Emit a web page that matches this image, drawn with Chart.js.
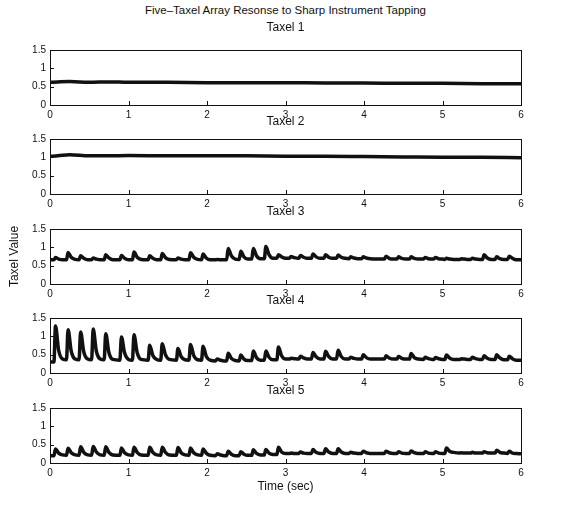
<!DOCTYPE html>
<html>
<head>
<meta charset="utf-8">
<script src="https://cdn.jsdelivr.net/npm/chart.js@4.4.1/dist/chart.umd.min.js"></script>
<style>
    body { margin: 0; background: #fff; width: 579px; height: 527px; position: relative; overflow: hidden; }
    .panel { position: absolute; left: 0; width: 579px; }
    #main-title { position: absolute; left: 50px; width: 471px; top: 4px; text-align: center;
        font: 11.5px "Liberation Sans", Arial, sans-serif; color: #111; }
</style>
</head>
<body>
<div id="main-title">Five&#8211;Taxel Array Resonse to Sharp Instrument Tapping</div>
<div class="panel" id="p1"><canvas id="c1"></canvas></div>
<div class="panel" id="p2"><canvas id="c2"></canvas></div>
<div class="panel" id="p3"><canvas id="c3"></canvas></div>
<div class="panel" id="p4"><canvas id="c4"></canvas></div>
<div class="panel" id="p5"><canvas id="c5"></canvas></div>
<script>
// Axis ticks (shared by all five panels)
const xTicks = [0, 1, 2, 3, 4, 5, 6];
const yTicks = [0, 0.5, 1, 1.5];

// Taxel 1 and 2 are nearly flat, a few samples are enough
const timeFlat = [0, 0.1, 0.25, 0.5, 0.75, 1.0, 1.5, 2.0, 2.5, 3.0, 3.5, 4.0, 4.5, 5.0, 5.5, 6.0];
const taxel1 = [0.62, 0.63, 0.64, 0.62, 0.63, 0.62, 0.62, 0.61, 0.61, 0.61, 0.60, 0.60, 0.59, 0.59, 0.58, 0.58];
const taxel2 = [1.03, 1.04, 1.07, 1.04, 1.04, 1.05, 1.04, 1.04, 1.04, 1.03, 1.03, 1.02, 1.01, 1.00, 1.00, 0.99];

// Taxels 3-5 see the same taps: before, peak, decay, settled for each tap
const timeTap = [
    0,
    0.05, 0.07, 0.11, 0.16,  0.21, 0.23, 0.27, 0.32,  0.37, 0.39, 0.43, 0.48,
    0.53, 0.55, 0.59, 0.64,  0.69, 0.71, 0.75, 0.80,  0.89, 0.91, 0.95, 1.00,
    1.05, 1.07, 1.11, 1.16,  1.25, 1.27, 1.31, 1.36,  1.41, 1.43, 1.47, 1.52,
    1.61, 1.63, 1.67, 1.72,  1.77, 1.79, 1.83, 1.88,  1.93, 1.95, 1.99, 2.04,
    2.11, 2.13, 2.17, 2.22,  2.25, 2.27, 2.31, 2.36,  2.41, 2.43, 2.47, 2.52,
    2.57, 2.59, 2.63, 2.68,  2.73, 2.75, 2.79, 2.84,  2.89, 2.91, 2.95, 3.00,
    3.05, 3.07, 3.11, 3.16,  3.17, 3.19, 3.23, 3.28,  3.33, 3.35, 3.39, 3.44,
    3.49, 3.51, 3.55, 3.60,  3.65, 3.67, 3.71, 3.76,  3.81, 3.83, 3.87, 3.92,
    3.97, 3.99, 4.03, 4.08,  4.26, 4.28, 4.32, 4.37,  4.42, 4.44, 4.48, 4.53,
    4.58, 4.60, 4.64, 4.69,  4.76, 4.78, 4.82, 4.87,  4.89, 4.91, 4.95, 5.00,
    5.03, 5.05, 5.09, 5.14,  5.22, 5.24, 5.28, 5.33,  5.36, 5.38, 5.42, 5.47,
    5.51, 5.53, 5.57, 5.62,  5.67, 5.69, 5.73, 5.78,  5.83, 5.85, 5.89, 5.94,
    6.00
];

const taxel3 = [
    0.66,
    0.66, 0.72, 0.68, 0.66,  0.66, 0.86, 0.73, 0.67,  0.66, 0.77, 0.70, 0.66,
    0.66, 0.71, 0.68, 0.66,  0.66, 0.80, 0.71, 0.66,  0.66, 0.78, 0.70, 0.66,
    0.66, 0.87, 0.73, 0.67,  0.66, 0.77, 0.70, 0.66,  0.66, 0.83, 0.72, 0.67,
    0.66, 0.71, 0.68, 0.66,  0.66, 0.85, 0.73, 0.67,  0.66, 0.82, 0.71, 0.66,
    0.66, 0.67, 0.66, 0.66,  0.66, 0.97, 0.77, 0.68,  0.67, 0.89, 0.74, 0.68,
    0.68, 0.97, 0.77, 0.69,  0.69, 1.02, 0.80, 0.70,  0.70, 0.80, 0.74, 0.70,
    0.70, 0.75, 0.72, 0.70,  0.70, 0.78, 0.73, 0.70,  0.70, 0.82, 0.74, 0.70,
    0.70, 0.80, 0.73, 0.70,  0.70, 0.79, 0.73, 0.70,  0.69, 0.74, 0.71, 0.69,
    0.69, 0.74, 0.71, 0.69,  0.68, 0.76, 0.70, 0.68,  0.68, 0.74, 0.70, 0.68,
    0.68, 0.74, 0.70, 0.68,  0.68, 0.72, 0.69, 0.68,  0.68, 0.72, 0.69, 0.68,
    0.67, 0.70, 0.68, 0.67,  0.67, 0.69, 0.68, 0.67,  0.67, 0.70, 0.68, 0.67,
    0.67, 0.80, 0.71, 0.67,  0.67, 0.74, 0.69, 0.67,  0.67, 0.76, 0.70, 0.66,
    0.66
];

const taxel4 = [
    0.30,
    0.30, 1.28, 0.62, 0.38,  0.36, 1.18, 0.60, 0.38,  0.36, 1.12, 0.58, 0.38,
    0.36, 1.20, 0.60, 0.38,  0.36, 1.07, 0.56, 0.37,  0.35, 0.98, 0.55, 0.37,
    0.35, 1.04, 0.56, 0.37,  0.35, 0.76, 0.48, 0.37,  0.35, 0.80, 0.50, 0.37,
    0.35, 0.67, 0.45, 0.36,  0.35, 0.78, 0.48, 0.36,  0.35, 0.73, 0.46, 0.35,
    0.33, 0.38, 0.35, 0.33,  0.33, 0.54, 0.40, 0.34,  0.33, 0.49, 0.38, 0.34,
    0.34, 0.60, 0.42, 0.35,  0.35, 0.60, 0.43, 0.36,  0.36, 0.71, 0.47, 0.38,
    0.38, 0.40, 0.39, 0.38,  0.38, 0.46, 0.41, 0.38,  0.38, 0.56, 0.44, 0.38,
    0.38, 0.59, 0.45, 0.38,  0.38, 0.62, 0.45, 0.38,  0.38, 0.43, 0.40, 0.38,
    0.38, 0.50, 0.42, 0.38,  0.38, 0.47, 0.41, 0.38,  0.38, 0.45, 0.40, 0.38,
    0.38, 0.53, 0.42, 0.38,  0.37, 0.43, 0.39, 0.37,  0.37, 0.42, 0.39, 0.37,
    0.37, 0.49, 0.41, 0.37,  0.37, 0.39, 0.38, 0.37,  0.37, 0.43, 0.39, 0.37,
    0.37, 0.47, 0.40, 0.37,  0.37, 0.50, 0.41, 0.36,  0.36, 0.46, 0.39, 0.35,
    0.35
];

const taxel5 = [
    0.20,
    0.20, 0.38, 0.27, 0.22,  0.21, 0.40, 0.28, 0.22,  0.21, 0.44, 0.29, 0.22,
    0.21, 0.45, 0.30, 0.22,  0.21, 0.44, 0.29, 0.22,  0.21, 0.41, 0.28, 0.22,
    0.21, 0.43, 0.29, 0.22,  0.21, 0.43, 0.29, 0.22,  0.21, 0.43, 0.29, 0.22,
    0.21, 0.42, 0.28, 0.22,  0.21, 0.41, 0.28, 0.22,  0.21, 0.38, 0.27, 0.21,
    0.20, 0.25, 0.22, 0.20,  0.20, 0.32, 0.24, 0.20,  0.20, 0.31, 0.24, 0.21,
    0.21, 0.36, 0.26, 0.22,  0.22, 0.37, 0.27, 0.23,  0.23, 0.43, 0.30, 0.26,
    0.26, 0.27, 0.26, 0.26,  0.26, 0.30, 0.27, 0.26,  0.26, 0.37, 0.29, 0.26,
    0.26, 0.39, 0.30, 0.26,  0.26, 0.39, 0.30, 0.26,  0.26, 0.29, 0.27, 0.26,
    0.26, 0.32, 0.28, 0.26,  0.26, 0.32, 0.28, 0.26,  0.26, 0.31, 0.27, 0.26,
    0.26, 0.33, 0.28, 0.26,  0.26, 0.31, 0.27, 0.26,  0.26, 0.31, 0.27, 0.26,
    0.26, 0.41, 0.32, 0.29,  0.27, 0.28, 0.27, 0.27,  0.27, 0.29, 0.27, 0.27,
    0.27, 0.31, 0.28, 0.27,  0.27, 0.35, 0.29, 0.27,  0.26, 0.32, 0.27, 0.26,
    0.25
];

const FONT = '"Liberation Sans", Arial, sans-serif';
const INK = '#111';

// plot box (y = 1.5) top for each panel, and how far above it the panel title sits
const plotTops = [50, 139, 229, 318, 408];
const titleGaps = [22, 17, 17, 17, 17];
const PLOT_H = 55;
const TITLE_H = 30;
const Y_AXIS_W = 50;
const X_AXIS_H = 18;

// MATLAB-like box with inward tick marks
const boxPlugin = {
    id: 'box',
    afterDraw(chart) {
        const { ctx, chartArea: a, scales } = chart;
        ctx.save();
        ctx.strokeStyle = INK;
        ctx.lineWidth = 1;
        ctx.strokeRect(a.left + 0.5, a.top + 0.5, a.right - a.left, a.bottom - a.top);
        ctx.beginPath();
        xTicks.slice(1, -1).forEach(v => {
            const px = Math.round(scales.x.getPixelForValue(v)) + 0.5;
            ctx.moveTo(px, a.bottom);
            ctx.lineTo(px, a.bottom - 4);
        });
        yTicks.slice(1, -1).forEach(v => {
            const py = Math.round(scales.y.getPixelForValue(v)) + 0.5;
            ctx.moveTo(a.left, py);
            ctx.lineTo(a.left + 4, py);
        });
        ctx.stroke();
        ctx.restore();
    }
};

function makePanel(idx, title, times, values) {
    const last = idx === 4;
    const xH = last ? 34 : X_AXIS_H;
    const holder = document.getElementById('p' + (idx + 1));
    holder.style.top = (plotTops[idx] - TITLE_H) + 'px';
    holder.style.height = (TITLE_H + PLOT_H + xH) + 'px';
    const padTop = TITLE_H - titleGaps[idx] - 6;

    new Chart(document.getElementById('c' + (idx + 1)), {
        type: 'line',
        data: {
            datasets: [{
                data: times.map((t, i) => ({ x: t, y: values[i] })),
                borderColor: INK,
                borderWidth: 3.5,
                pointRadius: 0,
                cubicInterpolationMode: 'monotone',
                fill: false
            }]
        },
        options: {
            responsive: true,
            maintainAspectRatio: false,
            animation: false,
            layout: { padding: { left: 0, right: 58, top: 0, bottom: 0 } },
            plugins: {
                legend: { display: false },
                tooltip: { enabled: false },
                title: {
                    display: true,
                    text: title,
                    fullSize: false,
                    color: INK,
                    font: { family: FONT, size: 12, weight: 'normal', lineHeight: 1 },
                    padding: { top: padTop, bottom: TITLE_H - padTop - 12 }
                }
            },
            scales: {
                x: {
                    type: 'linear',
                    min: 0,
                    max: 6,
                    afterBuildTicks: s => { s.ticks = xTicks.map(v => ({ value: v })); },
                    afterFit: s => { s.height = xH; },
                    grid: { display: false, drawTicks: false, tickLength: 0 },
                    border: { display: false },
                    ticks: { color: INK, padding: 4, font: { family: FONT, size: 10 }, maxRotation: 0 },
                    title: {
                        display: last,
                        text: 'Time (sec)',
                        color: INK,
                        padding: { top: 0, bottom: 3 },
                        font: { family: FONT, size: 12 }
                    }
                },
                y: {
                    min: 0,
                    max: 1.5,
                    afterBuildTicks: s => { s.ticks = yTicks.map(v => ({ value: v })); },
                    afterFit: s => { s.width = Y_AXIS_W; },
                    grid: { display: false, drawTicks: false, tickLength: 0 },
                    border: { display: false },
                    ticks: { color: INK, padding: 4, font: { family: FONT, size: 10 }, callback: v => String(v) },
                    title: {
                        display: idx === 2,
                        text: 'Taxel Value',
                        color: INK,
                        padding: { top: 7, bottom: 0 },
                        font: { family: FONT, size: 12 }
                    }
                }
            }
        },
        plugins: [boxPlugin]
    });
}

makePanel(0, 'Taxel 1', timeFlat, taxel1);
makePanel(1, 'Taxel 2', timeFlat, taxel2);
makePanel(2, 'Taxel 3', timeTap, taxel3);
makePanel(3, 'Taxel 4', timeTap, taxel4);
makePanel(4, 'Taxel 5', timeTap, taxel5);
</script>
</body>
</html>
